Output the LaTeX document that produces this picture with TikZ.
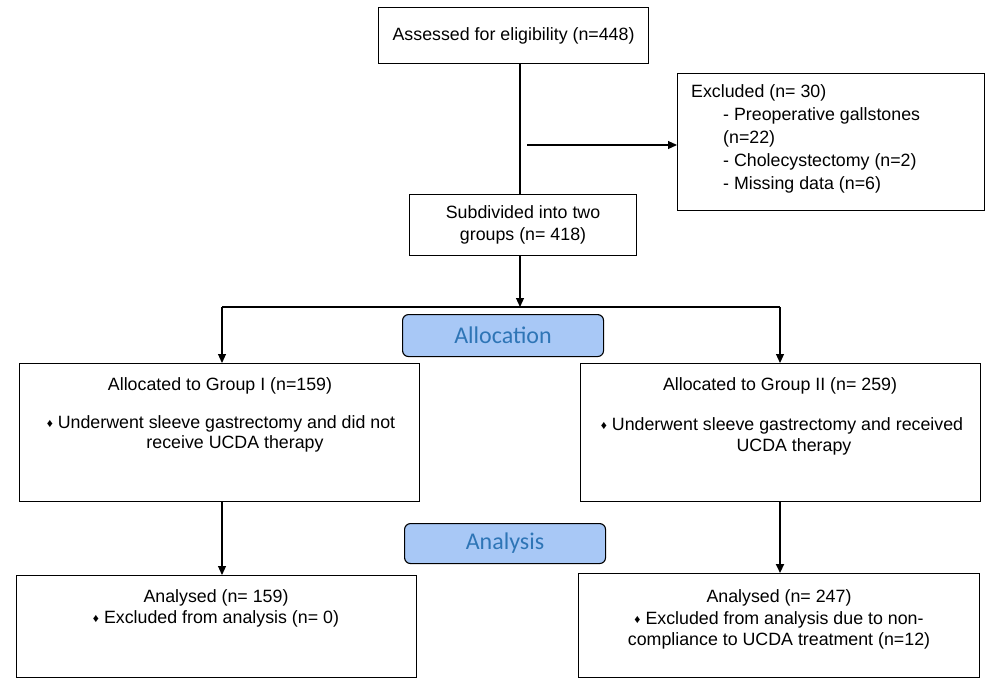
\documentclass[tikz,border=0pt]{standalone}
\usepackage{fontspec}
\setmainfont{Liberation Sans}
\newfontfamily\phfont{Carlito}
\usetikzlibrary{arrows.meta}
\definecolor{phfill}{RGB}{168,200,246}
\definecolor{phtext}{RGB}{46,117,182}
\begin{document}
\begin{tikzpicture}[x=1pt,y=-1pt,
  box/.style={draw, line width=1.1pt, inner sep=0pt, anchor=north west},
  txt/.style={inner sep=0pt, font=\fontsize{17.8}{21}\selectfont, align=center},
  phase/.style={draw, line width=1.1pt, fill=phfill, rounded corners=6pt, anchor=north west,
    inner sep=0pt, text=phtext, font=\phfont\fontsize{24}{24}\selectfont},
  arr/.style={line width=1.1pt, -{Triangle[width=8pt,length=9pt]}},
  ln/.style={line width=1.1pt}]
\useasboundingbox (0,0) rectangle (987,678);
\newcommand{\dia}{{\fontsize{12}{12}\selectfont\raisebox{1pt}{♦}}}

% boxes
\node[box, minimum width=270pt, minimum height=56pt] (assess) at (378,7) {};
\node[txt] (assessT) at (assess.center) {Assessed for eligibility (n=448)};

\node[box, minimum width=227pt, minimum height=61pt] (sub) at (409,194) {};
\node[txt, font=\fontsize{17.8}{22}\selectfont] (subT) at (sub.center) {Subdivided into two\\groups (n= 418)};

\node[box, minimum width=307pt, minimum height=137pt] (excl) at (677,73) {};
\node[txt, align=left, anchor=north west, font=\fontsize{17.8}{23}\selectfont] (exclT) at (691,84)
 {Excluded (n= 30)\\\hspace*{32pt}- Preoperative gallstones\\\hspace*{32pt}(n=22)\\\hspace*{32pt}- Cholecystectomy (n=2)\\\hspace*{32pt}- Missing data (n=6)};

\node[phase, minimum width=201pt, minimum height=42pt] (alloc) at (402,314) {Allocation};

\node[box, minimum width=400pt, minimum height=138pt] (g1) at (19,363) {};
\node[txt] (g1a) at (220,386) {Allocated to Group I (n=159)};
\node[txt, font=\fontsize{17.8}{20}\selectfont] (g1b) at (221,434) {\dia\ Underwent sleeve gastrectomy and did not\\\hspace*{28pt}receive UCDA therapy};

\node[box, minimum width=400pt, minimum height=138pt] (g2) at (580,363) {};
\node[txt] (g2a) at (780,386) {Allocated to Group II (n= 259)};
\node[txt, font=\fontsize{17.8}{21}\selectfont] (g2b) at (782,436) {\dia\ Underwent sleeve gastrectomy and received\\\hspace*{24pt}UCDA therapy};

\node[phase, minimum width=201pt, minimum height=40pt] (anal) at (404,523) {Analysis};

\node[box, minimum width=400pt, minimum height=102pt] (a1) at (16,575) {};
\node[txt] (a1a) at (216,598) {Analysed (n= 159)};
\node[txt] (a1b) at (216,619) {\dia\ Excluded from analysis (n= 0)};

\node[box, minimum width=401pt, minimum height=104pt] (a2) at (578,573) {};
\node[txt] (a2a) at (779,598) {Analysed (n= 247)};
\node[txt, font=\fontsize{17.8}{21}\selectfont] (a2b) at (779,630) {\dia\ Excluded from analysis due to non-\\compliance to UCDA treatment (n=12)};

% connectors
\coordinate (trunk) at (520,0);
\coordinate (exs) at (527,145);
\coordinate (split) at (520,307);
\coordinate (lx) at (222,307);
\coordinate (rx) at (780,307);

\draw[ln] (assess.south -| trunk) -- (sub.north -| trunk);
\draw[arr] (exs) -- (exs -| excl.west);
\draw[arr] (sub.south -| split) -- (split);
\draw[ln] (lx) -- (rx);
\draw[arr] (lx) -- (lx |- g1.north);
\draw[arr] (rx) -- (rx |- g2.north);
\draw[arr] (g1.south -| lx) -- (a1.north -| lx);
\draw[arr, line width=2pt] (g2.south -| rx) -- (a2.north -| rx);
\end{tikzpicture}
\end{document}
